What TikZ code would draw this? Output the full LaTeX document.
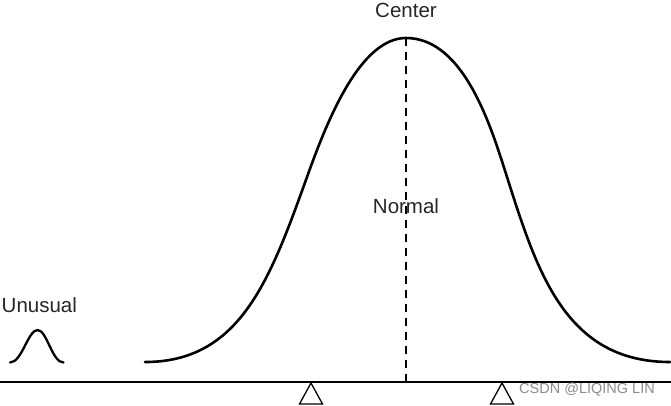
\documentclass[tikz,border=0pt]{standalone}
\usepackage{fontspec}
\setmainfont{Liberation Sans}
\begin{document}
\begin{tikzpicture}[x=1pt,y=-1pt,
  lbl/.style={inner sep=0pt,anchor=base,font=\fontsize{20.5}{24}\selectfont,text=black!85},
  curve/.style={line width=2.6pt,line cap=round,line join=round},
  axisline/.style={line width=2.8pt},
  pivot/.style={line width=1.3pt,line join=miter},
  meanline/.style={line width=1.3pt,dash pattern=on 8pt off 6pt},
  wmark/.style={inner sep=0pt,anchor=base west,font=\fontsize{14.5}{16}\selectfont,text=black!45}]
\useasboundingbox (0,0) rectangle (671,405);
% axis
\coordinate (axL) at (0,382);
\coordinate (axR) at (671,382);
% triangles
\draw[pivot] (311,383) -- (299.5,404) -- (322.5,404) -- cycle;
\draw[pivot] (502,383) -- (490.5,404) -- (513.5,404) -- cycle;
\draw[axisline] (axL) -- (axR);
% big curve
\coordinate (peak) at (406,38);
\coordinate (foot) at (406,382);
\draw[curve] (145,362) .. controls (240,362) and (270,280) .. (307,177)
  .. controls (327,121) and (360,38) .. (peak)
  .. controls (465,38) and (492,130) .. (507,177)
  .. controls (537,271) and (565,362) .. (670,362);
% mean line
\draw[meanline] (peak) -- (foot);
% small curve
\draw[line width=2.3pt,line cap=round] (10,362.5) .. controls (22,362.5) and (28,330) .. (37.5,330)
  .. controls (47,330) and (52,362.5) .. (63.5,362.5);
% labels
\node[lbl] (center) at (406,17) {Center};
\node[lbl] (normal) at (406,213) {Normal};
\node[lbl,anchor=base west] (unusual) at (1.5,312) {Unusual};
\node[wmark] (wm) at (519,393) {CSDN @LIQING LIN};
\end{tikzpicture}
\end{document}
